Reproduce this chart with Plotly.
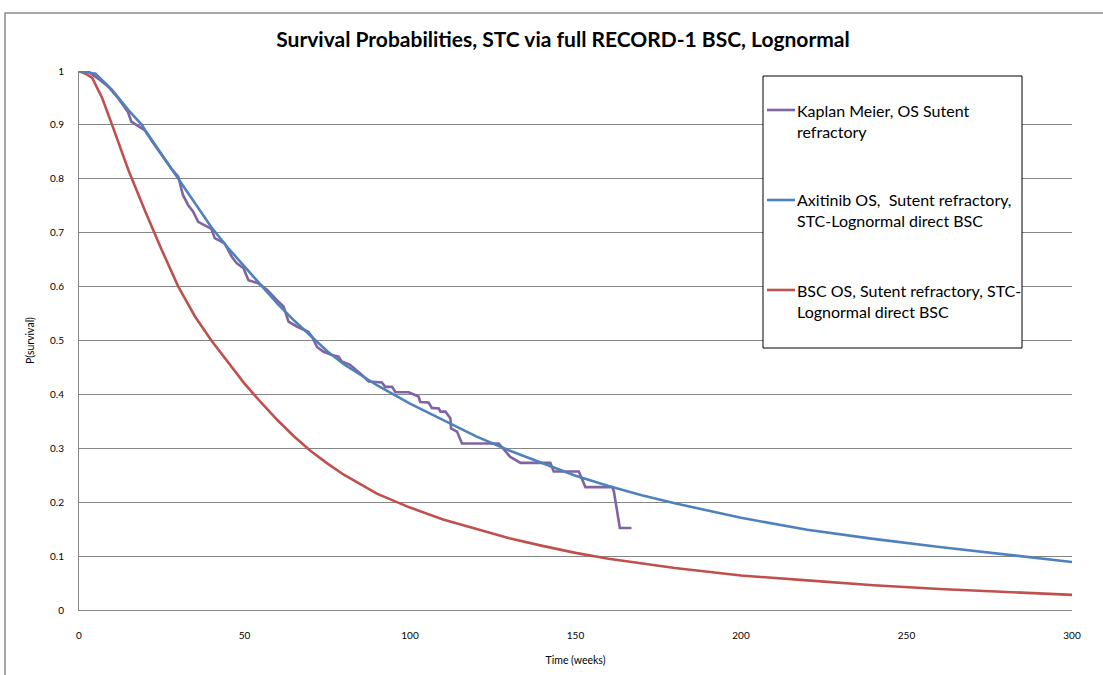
import plotly.graph_objects as go

# ---------------- data ----------------
km_weeks = [0, 3, 6, 9, 12, 14.8, 15.8, 18.3, 19.9, 22, 25, 28, 30, 31.4, 33, 34.5, 36, 39, 40, 41, 44,
            46.2, 47.7, 49.7, 51.2, 54.2, 56.8, 59.8, 61.8, 63.3, 65.8, 69.3, 70.4, 71.9, 73.9, 76.4,
            78.4, 79.4, 81.9, 85.5, 87.5, 91.5, 92.5, 94.6, 95.6, 99.6, 102.6, 103.1, 105.6, 106.6,
            108.7, 109.2, 110.7, 112.2, 112.4, 114.2, 115.7, 126.8, 130.3, 133.4, 142.4, 143.4, 151,
            153, 161.1, 161.6, 163.4, 166.9]
km_surv = [1, 0.998, 0.985, 0.97, 0.948, 0.924, 0.906, 0.897, 0.89, 0.87, 0.845, 0.818, 0.804, 0.77,
           0.751, 0.739, 0.72, 0.711, 0.707, 0.69, 0.68, 0.655, 0.643, 0.634, 0.612, 0.606, 0.594,
           0.575, 0.563, 0.535, 0.526, 0.516, 0.507, 0.488, 0.479, 0.473, 0.47, 0.461, 0.455, 0.436,
           0.424, 0.422, 0.414, 0.414, 0.404, 0.404, 0.396, 0.386, 0.385, 0.375, 0.374, 0.368, 0.368,
           0.356, 0.337, 0.331, 0.309, 0.309, 0.284, 0.273, 0.273, 0.257, 0.257, 0.228, 0.228, 0.22,
           0.152, 0.152]

axi_weeks = [0, 5, 10, 15, 19, 20, 25, 30, 35, 40, 45, 50, 55, 60, 65, 70, 75, 80, 90, 100, 110, 120,
             130, 140, 150, 160, 170, 180, 190, 200, 220, 240, 260, 280, 300]
axi_surv = [1.0, 0.995, 0.965, 0.927, 0.90, 0.89, 0.845, 0.80, 0.755, 0.71, 0.672, 0.638, 0.602, 0.568,
            0.537, 0.508, 0.48, 0.456, 0.417, 0.383, 0.352, 0.322, 0.296, 0.272, 0.249, 0.23, 0.213,
            0.198, 0.184, 0.171, 0.149, 0.132, 0.117, 0.103, 0.089]

bsc_weeks = [0, 2, 4, 7, 10, 13, 15, 20, 25, 30, 35, 40, 45, 50, 55, 60, 65, 70, 75, 80, 90, 100, 110,
             120, 130, 140, 150, 160, 170, 180, 190, 200, 220, 240, 260, 280, 300]
bsc_surv = [1.0, 0.995, 0.987, 0.95, 0.90, 0.85, 0.815, 0.74, 0.668, 0.60, 0.545, 0.50, 0.46, 0.42,
            0.385, 0.352, 0.322, 0.295, 0.272, 0.251, 0.216, 0.19, 0.168, 0.15, 0.133, 0.119, 0.106,
            0.095, 0.086, 0.078, 0.071, 0.064, 0.055, 0.046, 0.039, 0.033, 0.028]

series_names = ["Kaplan Meier, OS Sutent refractory",
                "Axitinib OS,  Sutent refractory, STC-Lognormal direct BSC",
                "BSC OS, Sutent refractory, STC-Lognormal direct BSC"]
legend_lines = [["Kaplan Meier, OS Sutent", "refractory"],
                ["Axitinib OS,  Sutent refractory,", "STC-Lognormal direct BSC"],
                ["BSC OS, Sutent refractory, STC-", "Lognormal direct BSC"]]
colors = ["#8064A2", "#4F81BD", "#C0504D"]

x_ticks = [0, 50, 100, 150, 200, 250, 300]
y_ticks = [0, 0.1, 0.2, 0.3, 0.4, 0.5, 0.6, 0.7, 0.8, 0.9, 1]
y_tick_text = ["0", "0.1", "0.2", "0.3", "0.4", "0.5", "0.6", "0.7", "0.8", "0.9", "1"]

# ---------------- layout helpers ----------------
W, H = 1103, 675
PL, PR, PT, PB = 79, 1072, 71, 610
FONT = "Lato"


def px(xp):
    return (xp - PL) / (PR - PL)


def py(yp):
    return (PB - yp) / (PB - PT)


fig = go.Figure()
for xs, ys, name, col in [(km_weeks, km_surv, series_names[0], colors[0]),
                          (bsc_weeks, bsc_surv, series_names[2], colors[2]),
                          (axi_weeks, axi_surv, series_names[1], colors[1])]:
    fig.add_trace(go.Scatter(x=xs, y=ys, mode="lines", name=name,
                             line=dict(color=col, width=2.6), showlegend=False))

shapes = []
annotations = []

# outer chart border
shapes.append(dict(type="rect", xref="paper", yref="paper",
                   x0=px(5), x1=px(1110), y0=py(13), y1=py(690),
                   line=dict(color="#8C8C8C", width=1.5), layer="below"))

# legend box
shapes.append(dict(type="rect", xref="paper", yref="paper",
                   x0=px(763), x1=px(1022), y0=py(76), y1=py(348),
                   line=dict(color="black", width=1), fillcolor="white", layer="above"))
legend_y = [110, 200, 290]
for i in range(3):
    shapes.append(dict(type="line", xref="paper", yref="paper",
                       x0=px(767), x1=px(795), y0=py(legend_y[i]), y1=py(legend_y[i]),
                       line=dict(color=colors[i], width=2.6), layer="above"))
    for j, txt in enumerate(legend_lines[i]):
        annotations.append(dict(xref="paper", yref="paper", x=px(795), y=py(legend_y[i] + 21 * j),
                                xanchor="left", yanchor="middle", text=txt, showarrow=False,
                                font=dict(family=FONT, size=16, color="black")))

fig.update_layout(
    width=W, height=H,
    margin=dict(l=PL, r=W - PR, t=PT, b=H - PB, pad=0),
    paper_bgcolor="white", plot_bgcolor="white",
    title=dict(text="<b>Survival Probabilities, STC via full RECORD-1 BSC, Lognormal</b>",
               x=563 / W, xref="container", xanchor="center",
               y=1 - 40 / H, yref="container", yanchor="middle",
               font=dict(family=FONT, size=21, color="black")),
    xaxis=dict(range=[0, 300], tickvals=x_ticks, showgrid=False, zeroline=False,
               showline=True, linecolor="#868686", linewidth=1,
               ticks="", ticklabelstandoff=16, tickfont=dict(family=FONT, size=10, color="black"),
               title=dict(text="Time (weeks)", font=dict(family=FONT, size=10.5, color="black"),
                          standoff=16)),
    yaxis=dict(range=[0, 1], tickvals=y_ticks, ticktext=y_tick_text, showgrid=True,
               gridcolor="#868686", gridwidth=1, zeroline=False,
               showline=True, linecolor="#868686", linewidth=1,
               ticks="", ticklabelstandoff=12, tickfont=dict(family=FONT, size=10, color="black"),
               title=dict(text="P(survival)", font=dict(family=FONT, size=10.5, color="black"),
                          standoff=13)),
    shapes=shapes, annotations=annotations,
)

fig.write_html("out.html")
